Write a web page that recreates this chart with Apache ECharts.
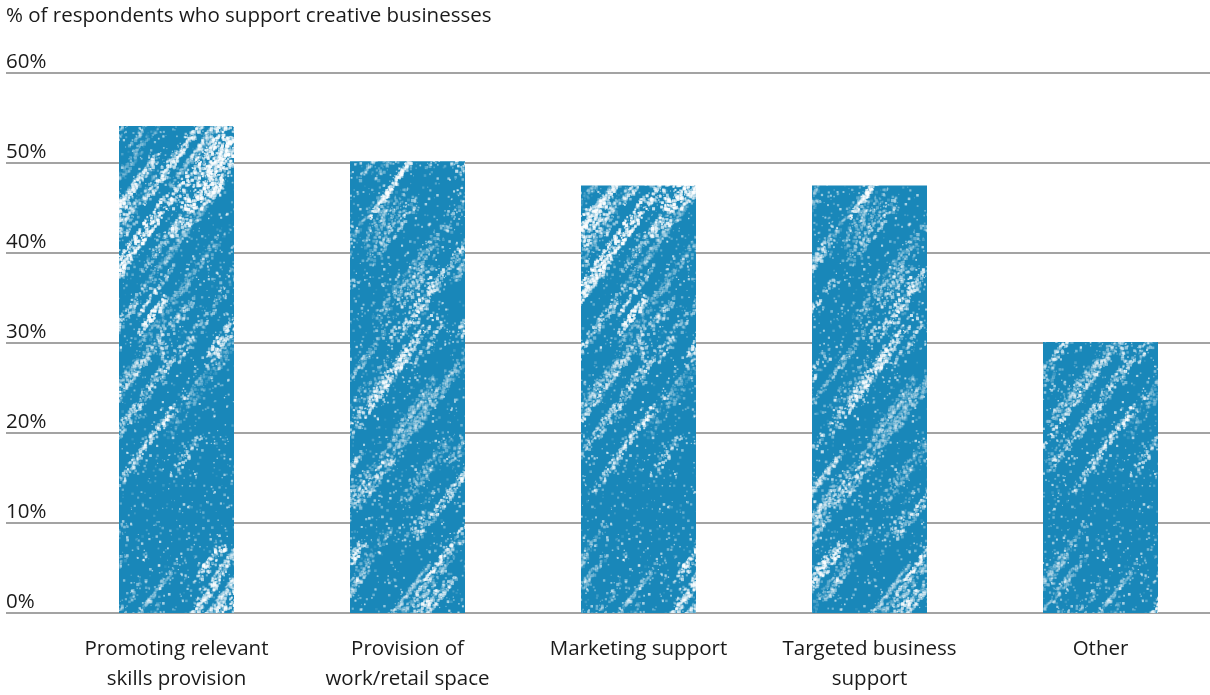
<!DOCTYPE html>
<html>
<head>
<meta charset="utf-8">
<script src="https://cdn.jsdelivr.net/npm/echarts@6/dist/echarts.min.js"></script>
<style>
  html, body { margin: 0; padding: 0; background: #ffffff; }
  #chart { width: 1210px; height: 695px; }
</style>
</head>
<body>
<div id="chart"></div>
<script>
// Survey results: share of respondents supporting each kind of help for creative businesses
const categories = [
  'Promoting relevant\nskills provision',
  'Provision of\nwork/retail space',
  'Marketing support',
  'Targeted business\nsupport',
  'Other'
];
const supportShare = [54.1, 50.2, 47.5, 47.5, 30.1];
const yTicks = [0, 10, 20, 30, 40, 50, 60];
const chartTitle = '% of respondents who support creative businesses';

const FONT = '"Open Sans", Lato, sans-serif';
const FONT_SIZE = 20.5;
const BAR_BLUE = '#1987b9';

// Chalky crayon texture: blue fill with diagonal pale streaks
function makeChalkTile() {
  const size = 480;
  const c = document.createElement('canvas');
  c.width = size; c.height = size;
  const ctx = c.getContext('2d');
  ctx.fillStyle = BAR_BLUE;
  ctx.fillRect(0, 0, size, size);
  let seed = 424242;
  const rnd = () => { seed = (seed * 1103515245 + 12345) & 0x7fffffff; return seed / 0x7fffffff; };
  const ang = -Math.PI * 0.30; // streaks rise to the right
  const dx = Math.cos(ang), dy = Math.sin(ang);
  const dot = (x, y, r, a) => {
    ctx.fillStyle = 'rgba(255,255,255,' + a.toFixed(3) + ')';
    for (const ax of [-size, 0, size]) {
      for (const ay of [-size, 0, size]) {
        ctx.fillRect(x + ax, y + ay, r, r);
      }
    }
  };
  const nStreaks = 150;
  for (let s = 0; s < nStreaks; s++) {
    const ox = rnd() * size;
    const oy = rnd() * size;
    const len = 20 + rnd() * 150;
    const strength = 0.25 + rnd() * 0.6;
    const width = 3 + rnd() * 10;
    const density = 0.15 + rnd() * 0.4;
    for (let t = 0; t < len; t += 1) {
      const fade = Math.sin(Math.PI * t / len);
      for (let m = 0; m < 3; m++) {
        if (rnd() > density * (0.5 + fade)) continue;
        const jitter = (rnd() - 0.5) * width;
        const x = ox + dx * t - dy * jitter;
        const y = oy + dy * t + dx * jitter;
        const r = 1 + rnd() * 2.4;
        dot(x, y, r, strength * (0.3 + rnd() * 0.7));
      }
    }
  }
  // fine mottling all over
  for (let i = 0; i < 9000; i++) {
    const x = rnd() * size, y = rnd() * size;
    dot(x, y, 1 + rnd() * 1.6, 0.08 + rnd() * 0.35);
  }
  return c;
}

const chart = echarts.init(document.getElementById('chart'), null, { renderer: 'canvas' });

chart.setOption({
  animation: false,
  backgroundColor: '#ffffff',
  title: {
    text: chartTitle,
    left: 6,
    top: 6,
    padding: 0,
    textStyle: { fontFamily: FONT, fontSize: FONT_SIZE, fontWeight: 'normal', color: '#1a1a1a' }
  },
  grid: [
    // full-width grid carrying the horizontal rules and percentage labels
    { left: 6, right: 0, top: 73, bottom: 82, outerBoundsMode: 'none' },
    // grid holding the bars and category labels
    { left: 61, width: 1155, top: 73, bottom: 82, outerBoundsMode: 'none' }
  ],
  xAxis: [
    { gridIndex: 0, type: 'value', show: false, min: 0, max: 1 },
    {
      gridIndex: 1,
      type: 'category',
      data: categories,
      axisLine: { show: false },
      axisTick: { show: false },
      axisLabel: {
        margin: 21,
        fontFamily: FONT,
        fontSize: FONT_SIZE,
        lineHeight: 30,
        color: '#1a1a1a',
        interval: 0
      }
    }
  ],
  yAxis: [
    {
      gridIndex: 0,
      type: 'value',
      min: yTicks[0],
      max: yTicks[yTicks.length - 1],
      interval: 10,
      axisLine: { show: false },
      axisTick: { show: false },
      splitLine: { lineStyle: { color: '#a3a3a3', width: 2 } },
      axisLabel: {
        inside: true,
        margin: 0,
        verticalAlign: 'bottom',
        padding: [0, 0, 0, 0],
        fontFamily: FONT,
        fontSize: FONT_SIZE,
        color: '#1a1a1a',
        formatter: '{value}%'
      }
    },
    {
      gridIndex: 1,
      type: 'value',
      min: yTicks[0],
      max: yTicks[yTicks.length - 1],
      interval: 10,
      show: false,
      splitLine: { show: false }
    }
  ],
  series: [
    {
      type: 'bar',
      xAxisIndex: 1,
      yAxisIndex: 1,
      data: supportShare,
      barWidth: 115,
      itemStyle: {
        color: { image: makeChalkTile(), repeat: 'repeat' }
      }
    }
  ]
});
</script>
</body>
</html>
